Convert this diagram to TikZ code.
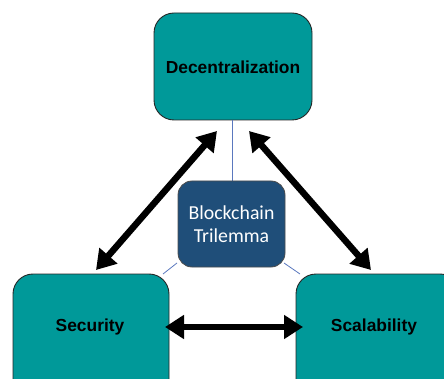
\documentclass[tikz,border=0pt]{standalone}
\usepackage{fontspec}
\setmainfont{Liberation Sans}
\newfontfamily\calib{Carlito}
\usetikzlibrary{arrows.meta}
\definecolor{tealbox}{RGB}{0,153,153}
\definecolor{navybox}{RGB}{31,78,121}
\definecolor{thinline}{RGB}{90,120,190}
\tikzset{
  corner/.style={draw=black!85, line width=0.9pt, rounded corners=20pt, fill=tealbox},
  core/.style={draw=black!70, line width=0.8pt, rounded corners=14pt, fill=navybox},
  label/.style={font=\bfseries\fontsize{17.4}{20}\selectfont, text=black},
  biarrow/.style={line width=6.5pt, {Triangle[length=19pt,width=23pt]}-{Triangle[length=19pt,width=23pt]}},
  link/.style={thinline, line width=0.8pt}
}
\begin{document}
\begin{tikzpicture}[x=1pt,y=-1pt]
\useasboundingbox (0,0) rectangle (444,379);
\clip (0,0) rectangle (444,379);
% the three corner boxes
\draw[corner] (154,13) rectangle (312,120);
\draw[corner] (13,274) rectangle (169,400);
\draw[corner] (296,274) rectangle (460,400);
\node[label] (dec) at (233,67) {Decentralization};
\node[label] (sec) at (90,327) {Security};
\node[label] (sca) at (374,327) {Scalability};
% thin links to the centre box
\coordinate (dtop) at (232,120);
\coordinate (ctop) at (232,181);
\coordinate (cbl) at (177,263);
\coordinate (sbl) at (163,274);
\coordinate (cbr) at (284,263);
\coordinate (sbr) at (300,274);
\draw[link] (dtop) -- (ctop);
\draw[link] (cbl) -- (sbl);
\draw[link] (cbr) -- (sbr);
% centre box
\draw[core] (178,181) rectangle (285,267);
\node[text=white, font=\calib\fontsize{19.8}{23}\selectfont, align=center] (tri) at (231.5,224) {Blockchain\\Trilemma};
% double-headed arrows between the corners
\coordinate (a1) at (96,270);
\coordinate (a2) at (217,131);
\coordinate (b1) at (249,131);
\coordinate (b2) at (371,270);
\coordinate (c1) at (165,327);
\coordinate (c2) at (303,327);
\draw[biarrow] (a1) -- (a2);
\draw[biarrow] (b1) -- (b2);
\draw[biarrow] (c1) -- (c2);
\end{tikzpicture}
\end{document}
